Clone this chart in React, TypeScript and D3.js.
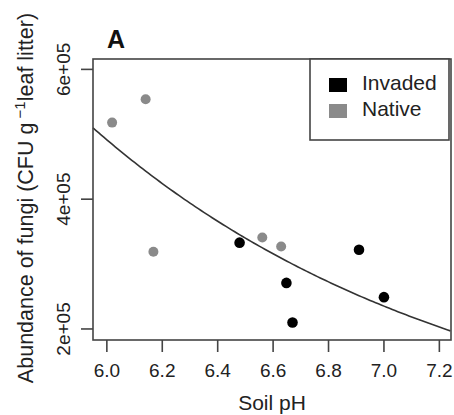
import React from "react";
import * as d3 from "d3";

const invadedPH = [6.479, 6.648, 6.67, 6.91, 7.0];
const invadedCFU = [333000, 271000, 210000, 322000, 249000];
const nativePH = [6.019, 6.14, 6.168, 6.561, 6.629];
const nativeCFU = [518000, 554000, 319000, 341000, 327000];
const xTicks = [6.0, 6.2, 6.4, 6.6, 6.8, 7.0, 7.2];
const yTicks = [200000, 400000, 600000];
const yTickLabels = ["2e+05", "4e+05", "6e+05"];
const legendLabels = ["Invaded", "Native"];
// exponential fit: CFU = exp(fitA + fitB * pH)
const fitA = 13.142 + 0.737 * 5.95;
const fitB = -0.737;

const W = 454, H = 415;
const L = 93, R = 451, T = 59, B = 340;
const FONT = "Liberation Sans, Arial, sans-serif";

export default function App() {
  const x = d3.scaleLinear().domain([5.95, 7.242]).range([L, R]);
  const y = d3.scaleLinear().domain([183000, 616000]).range([B, T]);
  const curveX = d3.range(5.95, 7.2421, 0.01);
  const line = d3
    .line<number>()
    .x((d) => x(d))
    .y((d) => y(Math.exp(fitA + fitB * d)));
  const grey = "#8a8a8a";
  const ink = "#222";
  return (
    <svg
      width={W}
      height={H}
      style={{ position: "absolute", left: 0, top: 0, background: "#fff" }}
      fontFamily={FONT}
    >
      <rect x={0} y={0} width={W} height={H} fill="#fff" />
      <path d={line(curveX) || ""} fill="none" stroke="#333" strokeWidth={1.6} />
      {nativePH.map((p, i) => (
        <circle key={"n" + i} cx={x(p)} cy={y(nativeCFU[i])} r={5} fill={grey} />
      ))}
      {invadedPH.map((p, i) => (
        <circle key={"i" + i} cx={x(p)} cy={y(invadedCFU[i])} r={5.3} fill="#000" />
      ))}
      <rect x={L} y={T} width={R - L} height={B - T} fill="none" stroke="#444" strokeWidth={1.6} />
      {xTicks.map((t) => (
        <g key={"x" + t}>
          <line x1={x(t)} x2={x(t)} y1={B} y2={B + 12} stroke="#444" strokeWidth={1.6} />
          <text x={x(t)} y={377} textAnchor="middle" fontSize={19} fill={ink}>
            {t.toFixed(1)}
          </text>
        </g>
      ))}
      {yTicks.map((t, i) => (
        <g key={"y" + t}>
          <line x1={L - 12} x2={L} y1={y(t)} y2={y(t)} stroke="#444" strokeWidth={1.6} />
          <text
            transform={`translate(70,${y(t)}) rotate(-90)`}
            textAnchor="middle"
            fontSize={19}
            fill={ink}
          >
            {yTickLabels[i]}
          </text>
        </g>
      ))}
      <text x={272} y={410} textAnchor="middle" fontSize={21} fill={ink}>
        Soil pH
      </text>
      <text
        transform={`translate(33,198) rotate(-90)`}
        textAnchor="middle"
        fontSize={21.5}
        fill={ink}
      >
        Abundance of fungi (CFU g
        <tspan dy={-8} fontSize={15}> −1</tspan>
        <tspan dy={8}>leaf litter)</tspan>
      </text>
      <text x={107} y={48} fontSize={25} fontWeight="bold" fill="#111">
        A
      </text>
      <rect x={310} y={T} width={139} height={81} fill="#fff" stroke="#444" strokeWidth={1.6} />
      {legendLabels.map((lab, i) => (
        <g key={lab}>
          <rect x={329} y={78 + i * 26} width={18} height={14} fill={i === 0 ? "#000" : grey} />
          <text x={362} y={90 + i * 26} fontSize={21} fill={ink}>
            {lab}
          </text>
        </g>
      ))}
    </svg>
  );
}
